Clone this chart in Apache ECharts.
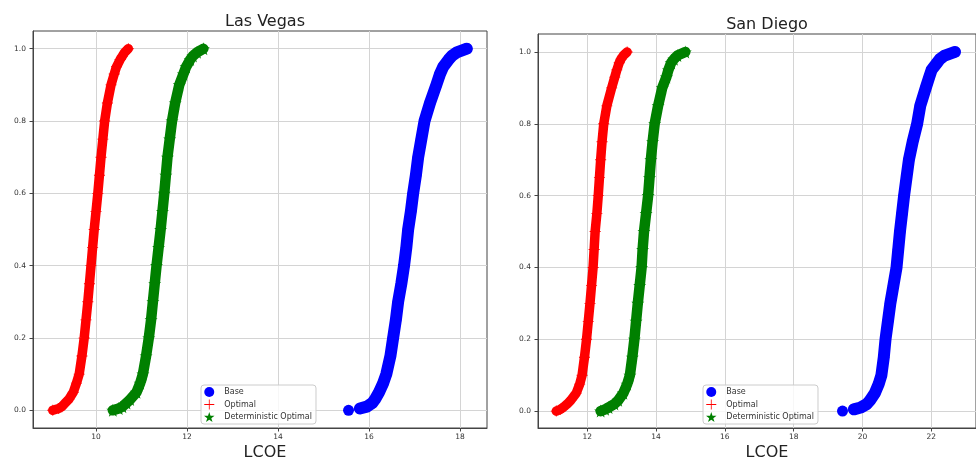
<!DOCTYPE html>
<html><head><meta charset="utf-8">
<script src="https://cdn.jsdelivr.net/npm/echarts@6/dist/echarts.min.js"></script>
<style>html,body{margin:0;padding:0;background:#fff}#c{width:976px;height:462px}</style>
</head><body><div id="c"></div>
<script>
// empirical CDF levels (y) shared by every series
const cdfLevels = [0,0.005,0.01,0.02,0.03,0.05,0.075,0.1,0.15,0.2,0.25,0.3,0.35,0.4,0.45,0.5,0.55,0.6,0.65,0.7,0.75,0.8,0.85,0.9,0.93,0.95,0.97,0.98,0.99,1.0];

// Las Vegas LCOE at each CDF level
const lvBase    = [15.55,15.80,15.95,16.07,16.13,16.22,16.31,16.38,16.47,16.53,16.59,16.64,16.71,16.77,16.82,16.86,16.92,16.97,17.03,17.08,17.15,17.22,17.34,17.48,17.56,17.63,17.75,17.82,17.93,18.15];
const lvOptimal = [9.05,9.18,9.25,9.32,9.40,9.50,9.57,9.63,9.69,9.74,9.78,9.82,9.855,9.89,9.925,9.96,10.00,10.04,10.075,10.11,10.15,10.19,10.25,10.33,10.40,10.45,10.53,10.58,10.63,10.71];
const lvDetOpt  = [10.37,10.50,10.58,10.67,10.75,10.89,10.97,11.03,11.10,11.16,11.21,11.25,11.29,11.33,11.375,11.42,11.46,11.50,11.535,11.57,11.62,11.67,11.74,11.83,11.92,11.98,12.07,12.13,12.22,12.36];

// San Diego LCOE at each CDF level
const sdBase    = [19.42,19.75,19.95,20.13,20.22,20.36,20.47,20.55,20.62,20.67,20.74,20.81,20.90,20.99,21.04,21.09,21.15,21.21,21.28,21.35,21.46,21.59,21.68,21.84,21.94,22.01,22.17,22.25,22.39,22.69];
const sdOptimal = [11.10,11.22,11.30,11.42,11.52,11.68,11.78,11.85,11.92,11.98,12.03,12.08,12.125,12.17,12.20,12.23,12.28,12.32,12.355,12.39,12.43,12.48,12.57,12.71,12.80,12.86,12.93,12.98,13.05,13.16];
const sdDetOpt  = [12.39,12.52,12.62,12.79,12.90,13.05,13.16,13.24,13.31,13.37,13.42,13.47,13.525,13.58,13.61,13.65,13.71,13.77,13.81,13.85,13.90,13.96,14.06,14.18,14.30,14.36,14.44,14.52,14.62,14.85];

const seriesNames = ['Base','Optimal','Deterministic Optimal'];
const cityTitles = ['Las Vegas','San Diego'];
const xAxisTitle = 'LCOE';
const lvXTicks = [10,12,14,16,18];
const sdXTicks = [12,14,16,18,20,22];
const yTicks = [0,0.2,0.4,0.6,0.8,1.0];

const FONT = 'DejaVu Sans';
const plusPath = 'path://M4.6,0H5.4V4.6H10V5.4H5.4V10H4.6V5.4H0V4.6H4.6Z';
const starPath = 'path://M50,0L61.8,35.5L99,35.5L69,57.5L80.3,93L50,71L19.7,93L31,57.5L1,35.5L38.2,35.5Z';
const styles = {
  'Base': {color:'#0000ff', symbol:'circle', size:11, lw:12, breakFirst:true},
  'Optimal': {color:'#ff0000', symbol:plusPath, size:11, lw:9.5, breakFirst:false},
  'Deterministic Optimal': {color:'#008000', symbol:starPath, size:13, lw:10.5, breakFirst:false}
};

function makeSeries(name, xs, gi){
  const st = styles[name];
  const data = xs.map((x,i)=>[x, cdfLevels[i]]);
  if (st.breakFirst) data.splice(1,0,'-');
  return {
    name, type:'line', xAxisIndex:gi, yAxisIndex:gi, data,
    symbol:st.symbol, symbolSize:st.size, showSymbol:true, showAllSymbol:true,
    connectNulls:false, silent:true, animation:false,
    itemStyle:{color:st.color, borderWidth:0},
    lineStyle:{color:st.color, width:st.lw, cap:'round', join:'round'}
  };
}

function xAxis(gi, min, max, ticks){
  return {type:'value', gridIndex:gi, min, max,
    axisLine:{show:true, onZero:false, lineStyle:{color:'#444', width:1}},
    axisTick:{show:true, length:3.5, customValues:ticks, lineStyle:{color:'#444'}},
    axisLabel:{customValues:ticks, fontSize:7.5, color:'#333', margin:5, fontFamily:FONT},
    splitLine:{show:true, lineStyle:{color:'#d4d4d4', width:1}}};
}
function yAxis(gi, min, max){
  return {type:'value', gridIndex:gi, min, max,
    axisLine:{show:true, onZero:false, lineStyle:{color:'#444', width:1}},
    axisTick:{show:true, length:3.5, customValues:yTicks, lineStyle:{color:'#444'}},
    axisLabel:{customValues:yTicks, fontSize:7.5, color:'#333', margin:7, fontFamily:FONT,
      formatter:v=>Number(v).toFixed(1)},
    splitLine:{show:true, lineStyle:{color:'#d4d4d4', width:1}}};
}

function legend(left, top){
  return {left, top, orient:'vertical', itemWidth:16, itemHeight:10, itemGap:2.5,
    padding:[2,4,2,3], borderColor:'#cccccc', borderWidth:1, borderRadius:3,
    backgroundColor:'rgba(255,255,255,0.8)', selectedMode:false,
    textStyle:{fontSize:8, color:'#333', fontFamily:FONT, padding:[0,0,0,2]},
    data:[
      {name:'Base', icon:'circle'},
      {name:'Optimal', icon:plusPath},
      {name:'Deterministic Optimal', icon:starPath}
    ]};
}

const chart = echarts.init(document.getElementById('c'), null, {renderer:'canvas'});
chart.setOption({
  animation:false,
  backgroundColor:'#fff',
  title:[
    {text:cityTitles[0], left:260, top:9, textAlign:'center', textStyle:{fontSize:16, fontWeight:'normal', color:'#222', fontFamily:FONT}},
    {text:cityTitles[1], left:762, top:12, textAlign:'center', textStyle:{fontSize:16, fontWeight:'normal', color:'#222', fontFamily:FONT}},
    {text:xAxisTitle, left:260, top:440, textAlign:'center', textStyle:{fontSize:16, fontWeight:'normal', color:'#222', fontFamily:FONT}},
    {text:xAxisTitle, left:762, top:440, textAlign:'center', textStyle:{fontSize:16, fontWeight:'normal', color:'#222', fontFamily:FONT}}
  ],
  grid:[
    {left:33, top:31, width:454, height:397, show:true, borderColor:'#444', borderWidth:1, backgroundColor:'transparent'},
    {left:538, top:34, width:451, height:394, show:true, borderColor:'#444', borderWidth:1, backgroundColor:'transparent'}
  ],
  xAxis:[xAxis(0, 8.615, 18.593, lvXTicks), xAxis(1, 10.569, 23.30, sdXTicks)],
  yAxis:[yAxis(0, -0.049, 1.049), yAxis(1, -0.047, 1.050)],
  legend:[legend(201, 385), legend(703, 385)],
  series:[
    makeSeries('Base', lvBase, 0),
    makeSeries('Optimal', lvOptimal, 0),
    makeSeries('Deterministic Optimal', lvDetOpt, 0),
    makeSeries('Base', sdBase, 1),
    makeSeries('Optimal', sdOptimal, 1),
    makeSeries('Deterministic Optimal', sdDetOpt, 1)
  ]
});
</script></body></html>
